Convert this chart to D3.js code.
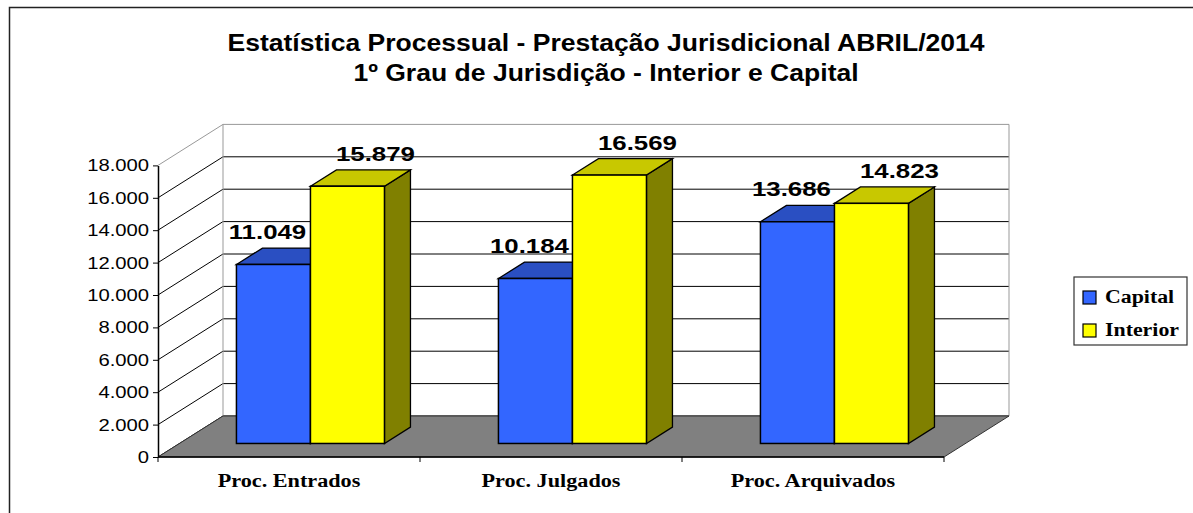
<!DOCTYPE html>
<html>
<head>
<meta charset="utf-8">
<script src="https://cdn.jsdelivr.net/npm/d3@7"></script>
<style>
  body { margin: 0; background: #fff; }
  svg { display: block; }
</style>
</head>
<body>
<svg id="chart" width="1193" height="513"></svg>
<script>
// data
const categories = ["Proc. Entrados", "Proc. Julgados", "Proc. Arquivados"];
const seriesNames = ["Capital", "Interior"];
const capital = [11049, 10184, 13686];
const interior = [15879, 16569, 14823];
const yTicks = [0, 2000, 4000, 6000, 8000, 10000, 12000, 14000, 16000, 18000];
const titleLines = ["Estatística Processual - Prestação Jurisdicional ABRIL/2014", "1º Grau de Jurisdição - Interior e Capital"];

const colors = { Capital: ["#3366ff", "#2a4fc2", "#1f3d99"], Interior: ["#ffff00", "#c8c800", "#808000"] };
const labelShift = { Capital: -6, Interior: 28 };

let svg = d3.select("#chart");

// plot geometry (oblique 3D)
let left = 158, right = 944, base = 457, plotH = 291.6,
    dx = 65, dy = 41, d0 = 0.33, d1 = 0.73;

let x0 = d3.scaleBand().domain(categories).range([left, right]);
let x1 = d3.scaleBand().domain(seriesNames).range([0, x0.bandwidth()]).paddingOuter(0.77);
let h = d3.scaleLinear().domain([0, 18000]).range([0, plotH]);
let yFront = d3.scaleLinear().domain([0, 18000]).range([base, base - plotH]);

let loc = d3.formatLocale({ decimal: ",", thousands: ".", grouping: [3], currency: ["", ""] });
let fmt = loc.format(",d");

// outer frame
svg.append("rect")
    .attr("x", 9.5).attr("y", 7.5)
    .attr("width", 1300).attr("height", 700)
    .attr("fill", "none").attr("stroke", "#222").attr("stroke-width", 1.5);

// title
svg.selectAll(".title")
    .data(titleLines)
    .enter().append("text")
    .attr("class", "title")
    .attr("transform", (d, i) => "translate(606," + (51 + i * 30) + ") scale(1.12,1)")
    .attr("text-anchor", "middle")
    .style("font-family", "Arial, 'Liberation Sans', sans-serif")
    .style("font-weight", "bold")
    .style("font-size", "23.7px")
    .text(d => d);

let g = svg.append("g");

// back wall gridlines
g.selectAll(".grid")
    .data(yTicks)
    .enter().append("line")
    .attr("x1", left + dx).attr("x2", right + dx)
    .attr("y1", d => yFront(d) - dy).attr("y2", d => yFront(d) - dy)
    .attr("stroke", d => d === 18000 ? "#999" : "#000")
    .attr("stroke-width", 1);

// left wall diagonals
g.selectAll(".diag")
    .data(yTicks)
    .enter().append("line")
    .attr("x1", left).attr("x2", left + dx)
    .attr("y1", d => yFront(d)).attr("y2", d => yFront(d) - dy)
    .attr("stroke", d => d === 18000 ? "#999" : "#000")
    .attr("stroke-width", 1);

// wall edges
g.append("line")
    .attr("x1", left + dx).attr("x2", left + dx)
    .attr("y1", yFront(18000) - dy).attr("y2", base - dy)
    .attr("stroke", "#999");
g.append("line")
    .attr("x1", right + dx).attr("x2", right + dx)
    .attr("y1", yFront(18000) - dy).attr("y2", base - dy)
    .attr("stroke", "#999");

// floor
g.append("polygon")
    .attr("points", [[left, base], [right, base], [right + dx, base - dy], [left + dx, base - dy]].join(" "))
    .attr("fill", "#808080")
    .attr("stroke", "#333").attr("stroke-width", 1);

// category axis line and ticks
g.append("line")
    .attr("x1", left).attr("x2", right).attr("y1", base).attr("y2", base)
    .attr("stroke", "#000").attr("stroke-width", 1.5);
g.selectAll(".ctick")
    .data(categories.concat(["end"]))
    .enter().append("line")
    .attr("x1", (d, i) => left + i * x0.step()).attr("x2", (d, i) => left + i * x0.step())
    .attr("y1", base).attr("y2", base + 5)
    .attr("stroke", "#000");

g.selectAll(".clabel")
    .data(categories)
    .enter().append("text")
    .attr("transform", d => "translate(" + (x0(d) + x0.bandwidth() / 2) + ",487) scale(1.17,1)")
    .attr("text-anchor", "middle")
    .style("font-family", "'Times New Roman', 'Liberation Serif', serif")
    .style("font-weight", "bold")
    .style("font-size", "19px")
    .text(d => d);

// y axis
let yAxis = g.append("g")
    .attr("transform", "translate(" + left + ",0)")
    .call(d3.axisLeft(yFront).tickValues(yTicks).tickFormat(fmt).tickSize(5).tickSizeOuter(0).tickPadding(4));
yAxis.select(".domain").attr("stroke", "#000").attr("stroke-width", 1.5);
yAxis.selectAll("text")
    .attr("transform", "scale(1.19,1)")
    .attr("x", -9 / 1.19)
    .style("font-family", "Arial, 'Liberation Sans', sans-serif")
    .style("font-size", "17px")
    .attr("fill", "#000");

// bars
let rows = [];
categories.forEach(function (c, i) {
    rows.push({ cat: c, s: "Capital", v: capital[i] });
    rows.push({ cat: c, s: "Interior", v: interior[i] });
});

let ox = d0 * dx, oy = d0 * dy, bx = (d1 - d0) * dx, by = (d1 - d0) * dy;

let bars = g.selectAll(".bar")
    .data(rows)
    .enter().append("g")
    .attr("class", "bar");

bars.each(function (d) {
    let el = d3.select(this);
    let xl = x0(d.cat) + x1(d.s) + ox, xr = xl + x1.bandwidth();
    let yb = base - oy, yt = yb - h(d.v);
    let c = colors[d.s];
    el.append("polygon")
        .attr("points", [[xr, yt], [xr, yb], [xr + bx, yb - by], [xr + bx, yt - by]].join(" "))
        .attr("fill", c[2]).attr("stroke", "#000").attr("stroke-width", 1.3);
    el.append("polygon")
        .attr("points", [[xl, yt], [xr, yt], [xr + bx, yt - by], [xl + bx, yt - by]].join(" "))
        .attr("fill", c[1]).attr("stroke", "#000").attr("stroke-width", 1.3);
    el.append("rect")
        .attr("x", xl).attr("y", yt)
        .attr("width", x1.bandwidth()).attr("height", h(d.v))
        .attr("fill", c[0]).attr("stroke", "#000").attr("stroke-width", 1.5);
});

// value labels
bars.append("text")
    .attr("transform", function (d) {
        let cx = x0(d.cat) + x1(d.s) + ox + x1.bandwidth() / 2 + labelShift[d.s];
        let ty = base - oy - h(d.v) - by - 9;
        return "translate(" + cx + "," + ty + ") scale(1.23,1)";
    })
    .attr("text-anchor", "middle")
    .style("font-family", "Arial, 'Liberation Sans', sans-serif")
    .style("font-weight", "bold")
    .style("font-size", "21px")
    .text(d => fmt(d.v));

// legend
let lg = svg.append("g").attr("transform", "translate(1074,277)");
lg.append("rect")
    .attr("width", 113).attr("height", 68)
    .attr("fill", "#fff").attr("stroke", "#333").attr("stroke-width", 1.2);
let items = lg.selectAll(".item")
    .data(seriesNames)
    .enter().append("g")
    .attr("transform", (d, i) => "translate(9," + (14 + i * 33) + ")");
items.append("rect")
    .attr("width", 13).attr("height", 13)
    .attr("fill", d => colors[d][0]).attr("stroke", "#000").attr("stroke-width", 1.2);
items.append("text")
    .attr("transform", "translate(22,12) scale(1.15,1)")
    .style("font-family", "'Times New Roman', 'Liberation Serif', serif")
    .style("font-weight", "bold")
    .style("font-size", "19px")
    .text(d => d);
</script>
</body>
</html>
